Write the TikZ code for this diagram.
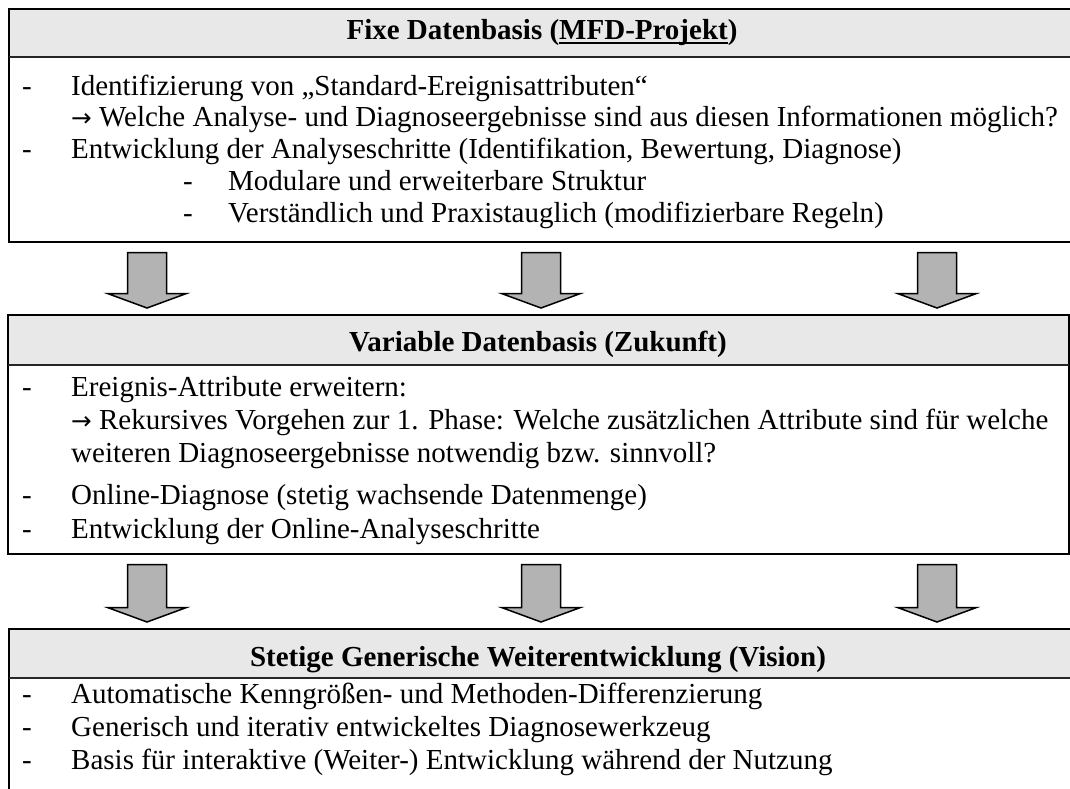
\documentclass[tikz,border=0pt]{standalone}
\usepackage{fontspec}
\setmainfont{Liberation Serif}
\newfontfamily\arrowfont[Scale=0.85]{DejaVu Sans}
\usetikzlibrary{calc}
\definecolor{headgray}{HTML}{E8E8E8}
\definecolor{arrowgray}{HTML}{B3B3B3}
% arrow sign in the running text
\newcommand\rarr{{\arrowfont →}}
% underline that sits just under the baseline
\newcommand\ulined[1]{\setbox0\hbox{#1}\rlap{\rule[-4pt]{\wd0}{1.8pt}}\box0}
\begin{document}
\begin{tikzpicture}[x=1pt,y=-1pt,
  panel/.style={draw=black, line width=2pt, fill=white, anchor=north west,
    inner sep=0pt, outer sep=0pt,
    path picture={\fill[headgray] (path picture bounding box.north west)
      rectangle ([yshift=-#1]path picture bounding box.north east);}},
  headline/.style={line width=1.6pt, draw=black!85},
  bodytext/.style={anchor=base west, inner sep=0pt,
    font=\fontsize{29}{33}\selectfont},
  headtext/.style={anchor=base, inner sep=0pt,
    font=\fontsize{29}{33}\selectfont\bfseries},
  blockarrow/.style={draw=black, line width=1.5pt, fill=arrowgray, line join=miter},
]
\useasboundingbox (0,0) rectangle (1070,789);
\clip (0,0) rectangle (1070,789);

% broad down arrow from one panel to the next, at a given x
\newcommand\droparrow[3]{%
  \draw[blockarrow] let \p1=(#1.south), \p2=(#2.north) in
    ({#3pt-19.5pt},{\y1-10.5pt}) -- ({#3pt+19.5pt},{\y1-10.5pt})
    -- ({#3pt+19.5pt},{\y2+21.5pt}) -- ({#3pt+39.5pt},{\y2+21.5pt})
    -- ({#3pt},{\y2+7pt}) -- ({#3pt-39.5pt},{\y2+21.5pt})
    -- ({#3pt-19.5pt},{\y2+21.5pt}) -- cycle;}

% ---------- panel 1 ----------
\node[panel=48pt, minimum width=1064pt, minimum height=233pt] (fixbox) at (9,9) {};
\draw[headline] ([yshift=-48pt]fixbox.north west) -- ([yshift=-48pt]fixbox.north east);
\node[headtext] (fixhead) at (542,40) {Fixe Datenbasis (\ulined{MFD-Projekt})};
\node[bodytext] (f1d) at (22,96) {-};
\node[bodytext] (f1) at (71,96) {Identifizierung von „Standard-Ereignisattributen“};
\node[bodytext] (f2) at (71,126) {\rarr{} Welche Analyse- und Diagnoseergebnisse sind aus diesen Informationen möglich?};
\node[bodytext] (f3d) at (22,158) {-};
\node[bodytext] (f3) at (71,158) {Entwicklung der Analyseschritte (Identifikation, Bewertung, Diagnose)};
\node[bodytext] (f4d) at (183,190) {-};
\node[bodytext] (f4) at (228,190) {Modulare und erweiterbare Struktur};
\node[bodytext] (f5d) at (183,222) {-};
\node[bodytext] (f5) at (228,222) {Verständlich und Praxistauglich (modifizierbare Regeln)};

% ---------- panel 2 ----------
\node[panel=50pt, minimum width=1061pt, minimum height=239pt] (varbox) at (8,315) {};
\draw[headline] ([yshift=-50pt]varbox.north west) -- ([yshift=-50pt]varbox.north east);
\node[headtext] (varhead) at (538,351) {Variable Datenbasis (Zukunft)};
\node[bodytext] (v1d) at (22,396) {-};
\node[bodytext] (v1) at (71,396) {Ereignis-Attribute erweitern:};
\node[bodytext] (v2) at (71,429) {\rarr{} Rekursives Vorgehen zur 1. Phase: Welche zusätzlichen Attribute sind für welche};
\node[bodytext] (v3) at (71,462) {weiteren Diagnoseergebnisse notwendig bzw. sinnvoll?};
\node[bodytext] (v4d) at (22,504) {-};
\node[bodytext] (v4) at (71,504) {Online-Diagnose (stetig wachsende Datenmenge)};
\node[bodytext] (v5d) at (22,538) {-};
\node[bodytext] (v5) at (71,538) {Entwicklung der Online-Analyseschritte};

% ---------- panel 3 ----------
\node[panel=49pt, minimum width=1070pt, minimum height=200pt] (visbox) at (9,629) {};
\draw[headline] ([yshift=-49pt]visbox.north west) -- ([yshift=-49pt]visbox.north east);
\node[headtext] (vishead) at (538,666) {Stetige Generische Weiterentwicklung (Vision)};
\node[bodytext] (s1d) at (22,703) {-};
\node[bodytext] (s1) at (71,703) {Automatische Kenngrößen- und Methoden-Differenzierung};
\node[bodytext] (s2d) at (22,736) {-};
\node[bodytext] (s2) at (71,736) {Generisch und iterativ entwickeltes Diagnosewerkzeug};
\node[bodytext] (s3d) at (22,769) {-};
\node[bodytext] (s3) at (71,769) {Basis für interaktive (Weiter-) Entwicklung während der Nutzung};

% ---------- arrows between the panels ----------
\droparrow{fixbox}{varbox}{147}
\droparrow{fixbox}{varbox}{541}
\droparrow{fixbox}{varbox}{937}
\droparrow{varbox}{visbox}{147}
\droparrow{varbox}{visbox}{541}
\droparrow{varbox}{visbox}{937}
\end{tikzpicture}
\end{document}
